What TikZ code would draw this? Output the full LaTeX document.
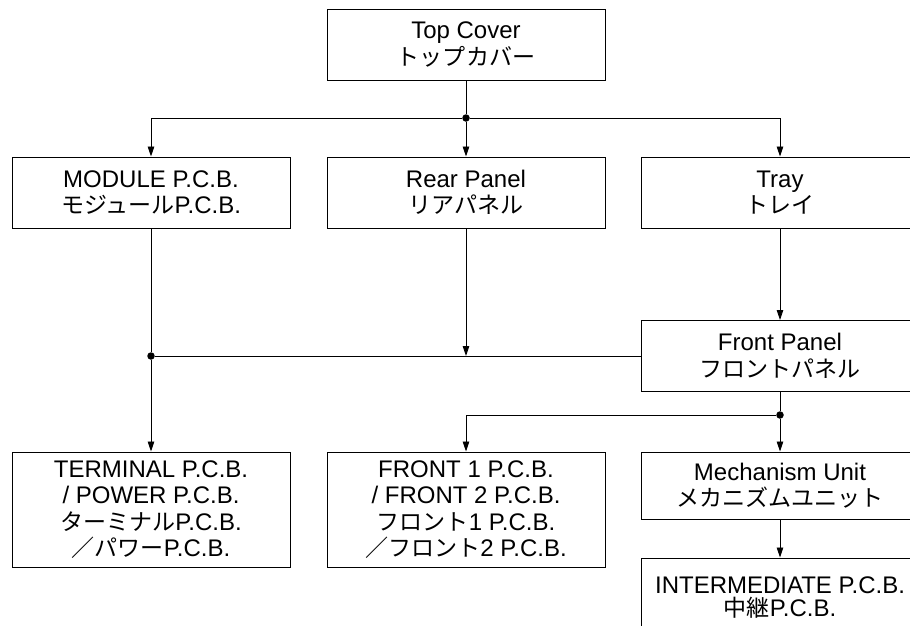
\documentclass[tikz,border=0pt]{standalone}
\usepackage{fontspec}
\setmainfont{Liberation Sans}
\newfontfamily\jp{Noto Sans CJK JP}[Scale=0.96]
\usetikzlibrary{arrows.meta,positioning}

\begin{document}
\begin{tikzpicture}[
  x=1pt, y=-1pt,
  unitbox/.style={draw, line width=1pt, minimum width=278pt, minimum height=71pt,
    align=center, inner sep=2pt, font=\fontsize{24}{26.5}\selectfont},
  link/.style={draw, line width=0.9pt},
  >={Triangle[length=10pt,width=6.5pt]},
  joint/.style={circle, fill, inner sep=0pt, minimum size=7.5pt}
]
\clip (0,0) rectangle (910,625);

% boxes
\node[unitbox] (top)    at (466,44.5)  {Top Cover\\{\jp トップカバー}};
\node[unitbox] (module) at (151,192.5) {MODULE P.C.B.\\{\jp モジュール}P.C.B.};
\node[unitbox] (rear)   at (466,192.5) {Rear Panel\\{\jp リアパネル}};
\node[unitbox] (tray)   at (780,192.5) {Tray\\{\jp トレイ}};
\node[unitbox] (front)  at (780,356)   {Front Panel\\{\jp フロントパネル}};
\node[unitbox, minimum height=115pt] (term) at (151,509.5)
  {TERMINAL P.C.B.\\/ POWER P.C.B.\\{\jp ターミナル}P.C.B.\\{\jp ／パワー}P.C.B.};
\node[unitbox, minimum height=115pt] (fpcb) at (466,509.5)
  {FRONT 1 P.C.B.\\/ FRONT 2 P.C.B.\\{\jp フロント}1 P.C.B.\\{\jp ／フロント}2 P.C.B.};
\node[unitbox, minimum height=67pt] (mech) at (780,485.5) {Mechanism Unit\\{\jp メカニズムユニット}};
\node[unitbox, minimum height=79pt, font=\fontsize{24}{23}\selectfont] (inter) at (780,597.5)
  {INTERMEDIATE P.C.B.\\{\jp 中継}P.C.B.};

% junctions
\node[joint] (split) at (466,118) {};
\node[joint] (left)  at (151,356) {};
\node[joint] (right) at (780,415) {};

% connectors
\path[link] (top.south) -- (split);
\path[link, ->] (split) -| (module.north);
\path[link, ->] (split) -- (rear.north);
\path[link, ->] (split) -| (tray.north);
\path[link] (module.south) -- (left);
\path[link] (left) -- (front.west);
\path[link, ->] (rear.south) -- (rear.south |- front.west);
\path[link, ->] (left) -- (term.north);
\path[link, ->] (tray.south) -- (front.north);
\path[link] (front.south) -- (right);
\path[link, ->] (right) -| (fpcb.north);
\path[link, ->] (right) -- (mech.north);
\path[link, ->] (mech.south) -- (inter.north);
\end{tikzpicture}
\end{document}
